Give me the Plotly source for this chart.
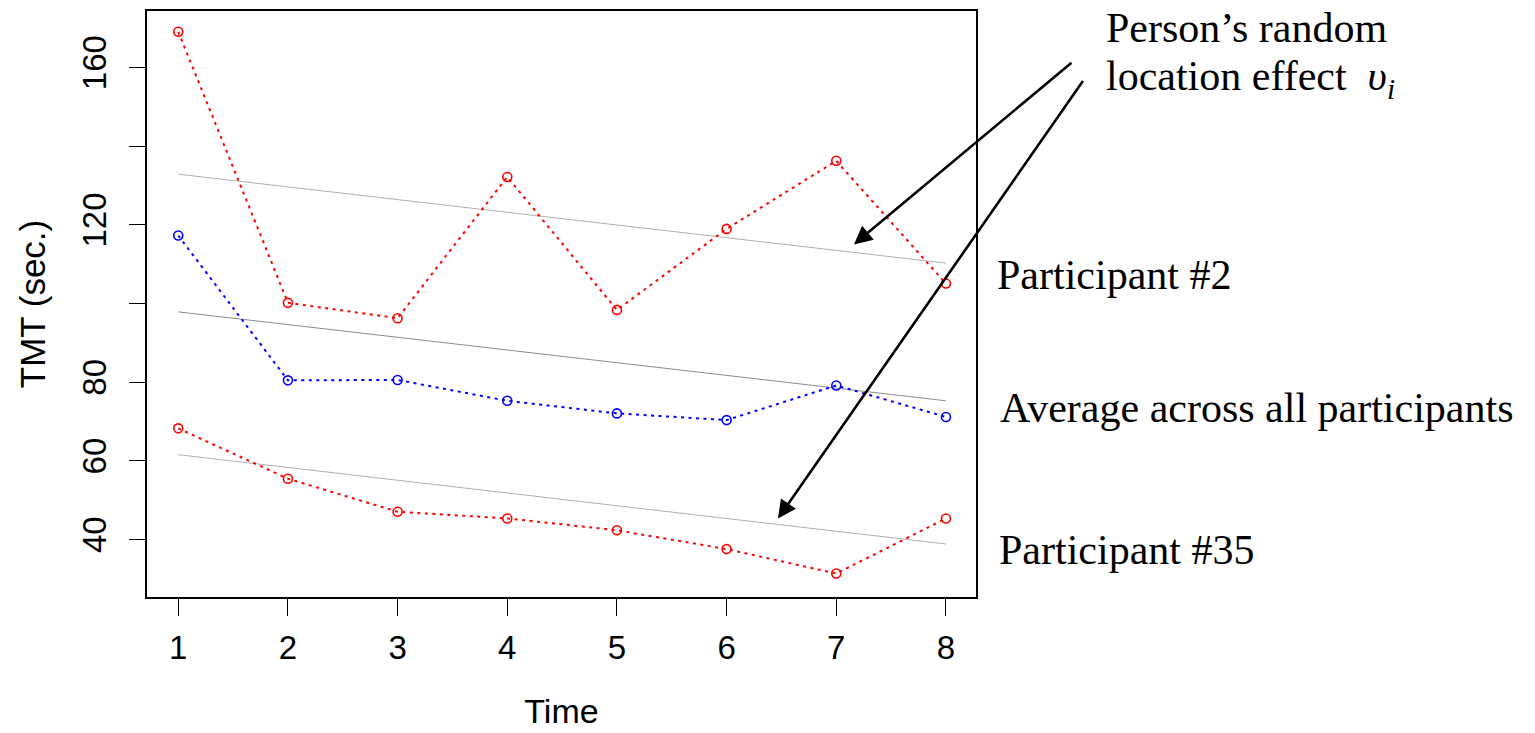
import plotly.graph_objects as go

# ---- data ----
time = [1, 2, 3, 4, 5, 6, 7, 8]
participant_2 = [169.1, 100.2, 96.3, 132.2, 98.4, 119.0, 136.3, 105.1]
average_all = [117.3, 80.5, 80.6, 75.3, 72.1, 70.4, 79.2, 71.2]
participant_35 = [68.3, 55.5, 47.1, 45.4, 42.4, 37.6, 31.4, 45.4]

fit_time = [1, 8]
fit_participant_2 = [132.9, 110.3]
fit_average = [97.9, 75.3]
fit_participant_35 = [61.6, 38.9]

y_tickvals = [40, 60, 80, 100, 120, 140, 160]
y_ticktext = ["40", "60", "80", "", "120", "", "160"]
x_tickvals = [1, 2, 3, 4, 5, 6, 7, 8]

label_p2 = "Participant #2"
label_avg = "Average across all participants"
label_p35 = "Participant #35"
label_effect_1 = "Person\u2019s random"
label_effect_2 = "location effect  <i>\u03c5</i><sub><i>i</i></sub>"

# ---- layout geometry (pixels) ----
W, H = 1535, 733
L, R, T, B = 147, 976, 9, 599

def px_x(p):
    return (p - L) / (R - L)

def px_y(p):
    return (B - p) / (B - T)

SANS = "Liberation Sans, Arial, Helvetica, sans-serif"
SERIF = "Liberation Serif, Times New Roman, Times, serif"

fig = go.Figure()

# fitted (gray) lines
for ys, col in [(fit_participant_2, "#b0b0b0"), (fit_average, "#8c8c8c"), (fit_participant_35, "#b0b0b0")]:
    fig.add_trace(go.Scatter(x=fit_time, y=ys, mode="lines",
                             line=dict(color=col, width=1), hoverinfo="skip"))

# observed series
for ys, col in [(participant_2, "#ff0000"), (average_all, "#0000ff"), (participant_35, "#ff0000")]:
    fig.add_trace(go.Scatter(x=time, y=ys, mode="lines+markers",
                             line=dict(color=col, width=2, dash="3px,4.5px"),
                             marker=dict(symbol="circle-open", size=9, color=col,
                                         line=dict(color=col, width=1.6))))

SER_F = 42
annos = []
for txt, x, base in [(label_p2, 995, 288), (label_avg, 998, 422), (label_p35, 997, 565),
                     (label_effect_1, 1104, 40), (label_effect_2, 1104, 91)]:
    annos.append(dict(text=txt, xref="paper", yref="paper",
                      x=px_x(x), y=px_y(base - 0.32 * SER_F),
                      xanchor="left", yanchor="middle", showarrow=False,
                      font=dict(family=SERIF, size=SER_F, color="black")))

# arrows
for tail, head in [((1073, 61), (854, 244)), ((1084, 81), (778, 520))]:
    annos.append(dict(text="", xref="paper", yref="paper",
                      x=px_x(head[0]), y=px_y(head[1]),
                      ax=tail[0] - head[0], ay=tail[1] - head[1],
                      axref="pixel", ayref="pixel",
                      showarrow=True, arrowhead=2, arrowsize=1.4, arrowwidth=2.6,
                      arrowcolor="black", standoff=0, startstandoff=0))

fig.update_layout(
    width=W, height=H,
    margin=dict(l=L, r=W - R, t=T, b=H - B, pad=0),
    paper_bgcolor="white", plot_bgcolor="white",
    showlegend=False,
    annotations=annos,
    font=dict(family=SANS, color="black"),
)

fig.update_xaxes(range=[0.715, 8.274], tickvals=x_tickvals,
                 ticks="outside", ticklen=17, tickwidth=1.3, tickcolor="black",
                 showline=True, linecolor="black", linewidth=1.5, mirror=True,
                 showgrid=False, zeroline=False,
                 tickfont=dict(family=SANS, size=33),
                 ticklabelstandoff=4,
                 title=dict(text="Time", font=dict(family=SANS, size=34), standoff=34))

fig.update_yaxes(range=[25.43, 174.38], tickvals=y_tickvals, ticktext=y_ticktext,
                 tickangle=-90,
                 ticks="outside", ticklen=16, tickwidth=1.3, tickcolor="black",
                 showline=True, linecolor="black", linewidth=1.5, mirror=True,
                 showgrid=False, zeroline=False,
                 tickfont=dict(family=SANS, size=33),
                 ticklabelstandoff=10,
                 title=dict(text="TMT (sec.)", font=dict(family=SANS, size=35), standoff=20))

fig.write_html("out.html")
